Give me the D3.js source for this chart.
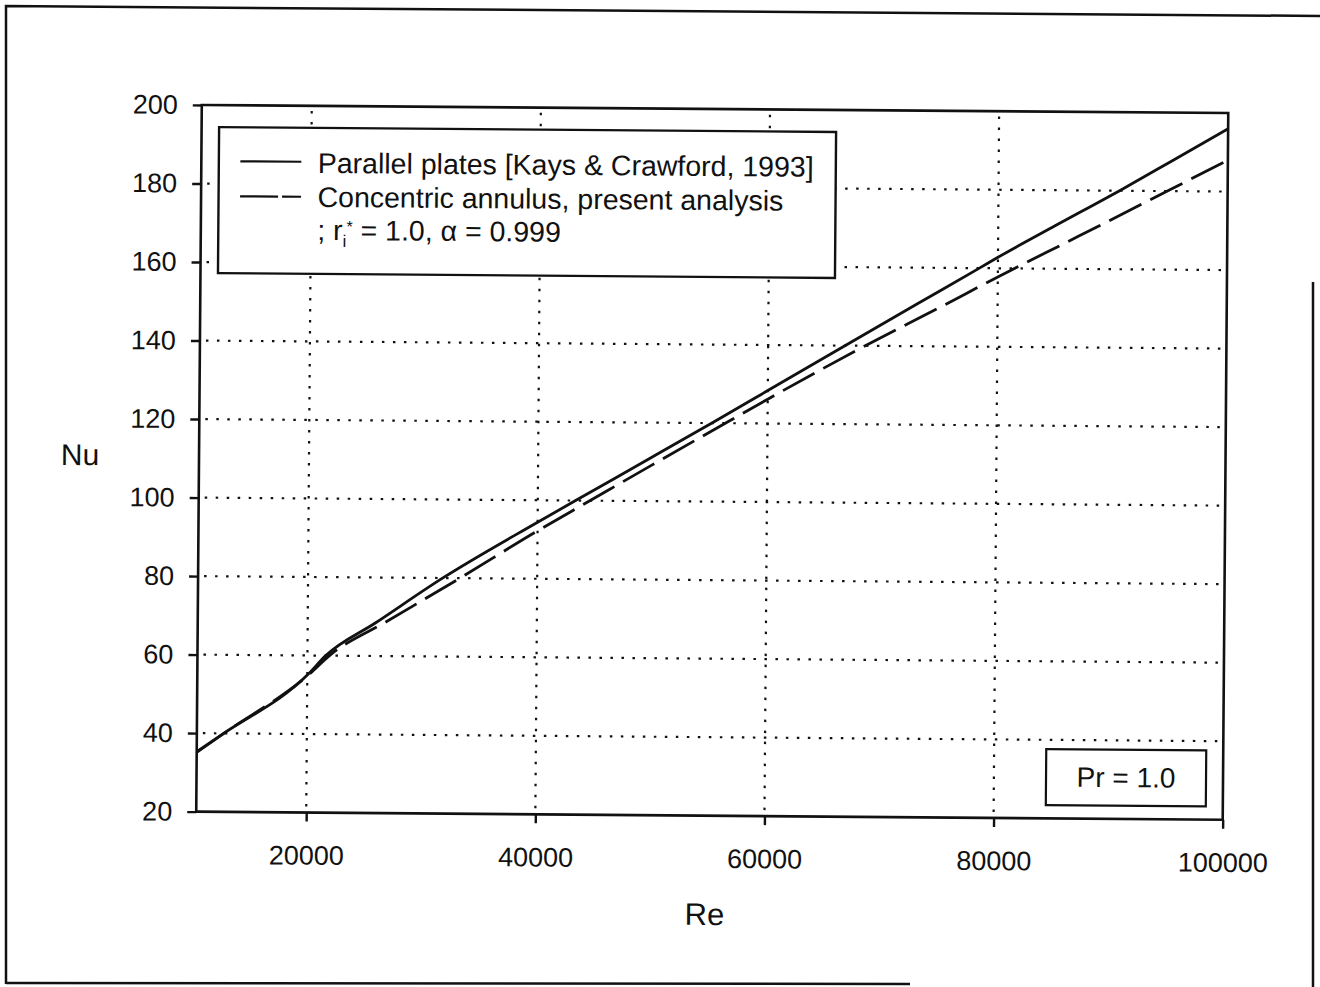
<!DOCTYPE html>
<html>
<head>
<meta charset="utf-8">
<script src="https://cdn.jsdelivr.net/npm/d3@7"></script>
<style>
  body { margin: 0; background: #fff; }
  text { font-family: "Liberation Sans", Arial, sans-serif; fill: #111; }
</style>
</head>
<body>
<svg id="chart" width="1320" height="987"></svg>
<script>
// Nusselt number vs Reynolds number, Pr = 1.0
const reParallel = [10400, 12750, 20000, 21600, 25900, 31700, 40000, 43300, 50000, 55300, 60000, 67000, 73000, 78500, 80000, 85000, 90800, 95000, 100000];
const nuParallel = [35.3, 40.0, 55.0, 60.0, 68.4, 79.9, 94.4, 100.0, 111.3, 120.3, 128.4, 140.5, 150.8, 160.2, 162.8, 171.0, 180.4, 187.5, 196.0];

const reAnnulus = [10400, 12750, 20000, 22000, 27000, 33200, 40000, 44500, 50000, 56500, 60000, 68600, 75000, 80000, 87000, 95000, 100000];
const nuAnnulus = [35.1, 40.0, 54.8, 60.2, 69.0, 79.9, 92.2, 99.9, 109.3, 120.3, 126.2, 140.2, 150.0, 157.8, 168.3, 180.4, 188.0];

const xTickValues = [20000, 40000, 60000, 80000, 100000];
const yTickValues = [20, 40, 60, 80, 100, 120, 140, 160, 180, 200];
const xDomain = [10400, 100000];
const yDomain = [20, 200];

const legendLine1 = "Parallel plates [Kays & Crawford, 1993]";
const legendLine2 = "Concentric annulus, present analysis";
const prLabel = "Pr = 1.0";
const xTitle = "Re";
const yTitle = "Nu";

const svg = d3.select("#chart");

// page frame
const frame = svg.append("g").attr("fill", "none").attr("stroke", "#111").attr("stroke-width", 2.5);
frame.append("path").attr("d", "M6,984 L6,6 L1320,16");
frame.append("path").attr("d", "M6,983 L910,984");
frame.append("path").attr("d", "M1313,282 L1313,987");

const plot = { left: 199, right: 1225.5, top: 109, bottom: 815.7 };

const g = svg.append("g").attr("transform", "rotate(0.45,712,462)");

const x = d3.scaleLinear().domain(xDomain).range([plot.left, plot.right]);
const y = d3.scaleLinear().domain(yDomain).range([plot.bottom, plot.top]);

// dotted grid
const grid = g.append("g").attr("stroke", "#111").attr("stroke-width", 2.2)
  .attr("stroke-dasharray", "2.5,8.5");
grid.selectAll("line.h").data(yTickValues.filter(v => v > 20 && v < 200)).join("line")
  .attr("class", "h")
  .attr("x1", plot.left + 6).attr("x2", plot.right)
  .attr("y1", d => y(d)).attr("y2", d => y(d));
grid.selectAll("line.v").data(xTickValues.filter(v => v < 100000)).join("line")
  .attr("class", "v")
  .attr("x1", d => x(d)).attr("x2", d => x(d))
  .attr("y1", plot.bottom - 6).attr("y2", plot.top);

// plot frame
g.append("rect")
  .attr("x", plot.left).attr("y", plot.top)
  .attr("width", plot.right - plot.left).attr("height", plot.bottom - plot.top)
  .attr("fill", "none").attr("stroke", "#111").attr("stroke-width", 2.6);

// axes
const xAxis = g.append("g").attr("transform", `translate(0,${plot.bottom})`)
  .call(d3.axisBottom(x).tickValues(xTickValues).tickSize(9).tickPadding(24).tickFormat(d3.format("d")));
const yAxis = g.append("g").attr("transform", `translate(${plot.left},0)`)
  .call(d3.axisLeft(y).tickValues(yTickValues).tickSize(9).tickPadding(15).tickFormat(d3.format("d")));
[xAxis, yAxis].forEach(a => {
  a.select(".domain").remove();
  a.selectAll("line").attr("stroke", "#111").attr("stroke-width", 2.4);
  a.selectAll("text").attr("font-size", 27).attr("fill", "#111")
    .style("font-family", "'Liberation Sans', Arial, sans-serif");
});

// curves
const line = d3.line().x(d => x(d[0])).y(d => y(d[1])).curve(d3.curveMonotoneX);
const parallelPts = reParallel.map((r, i) => [r, nuParallel[i]]);
const annulusPts = reAnnulus.map((r, i) => [r, nuAnnulus[i]]);

g.append("path").datum(annulusPts).attr("d", line)
  .attr("fill", "none").attr("stroke", "#111").attr("stroke-width", 2.8)
  .attr("stroke-dasharray", "36,10");
g.append("path").datum(parallelPts).attr("d", line)
  .attr("fill", "none").attr("stroke", "#111").attr("stroke-width", 2.8);

// legend
const lg = g.append("g");
lg.append("rect").attr("x", 216.5).attr("y", 131).attr("width", 617).attr("height", 146)
  .attr("fill", "#fff").attr("stroke", "#111").attr("stroke-width", 2.4);
lg.append("line").attr("x1", 238).attr("x2", 299).attr("y1", 165).attr("y2", 165)
  .attr("stroke", "#111").attr("stroke-width", 2.2);
lg.append("line").attr("x1", 238).attr("x2", 299).attr("y1", 200).attr("y2", 200)
  .attr("stroke", "#111").attr("stroke-width", 2.2).attr("stroke-dasharray", "38,4");
lg.append("text").attr("x", 315.5).attr("y", 176).attr("font-size", 28.5).text(legendLine1);
lg.append("text").attr("x", 315.5).attr("y", 210).attr("font-size", 28.5).text(legendLine2);
const t3 = lg.append("text").attr("x", 315.5).attr("y", 243).attr("font-size", 28.5);
t3.append("tspan").text("; r");
t3.append("tspan").attr("dy", 7).attr("font-size", 17).text("i");
t3.append("tspan").attr("dy", -15).attr("font-size", 16).text("*");
t3.append("tspan").attr("dy", 8).text(" = 1.0, \u03b1 = 0.999");

// Prandtl number box
g.append("rect").attr("x", 1048.5).attr("y", 746.5).attr("width", 160).attr("height", 56)
  .attr("fill", "#fff").attr("stroke", "#111").attr("stroke-width", 2.2);
g.append("text").attr("x", 1128.5).attr("y", 784).attr("text-anchor", "middle")
  .attr("font-size", 28).text(prLabel);

// axis titles
g.append("text").attr("x", 80).attr("y", 470).attr("text-anchor", "middle")
  .attr("font-size", 30).text(yTitle);
g.append("text").attr("x", 708).attr("y", 925).attr("text-anchor", "middle")
  .attr("font-size", 31).text(xTitle);
</script>
</body>
</html>
